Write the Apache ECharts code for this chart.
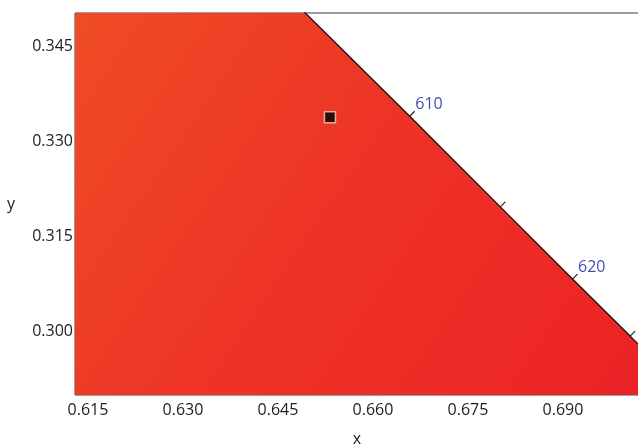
<!DOCTYPE html>
<html>
<head>
<meta charset="utf-8">
<script src="https://cdn.jsdelivr.net/npm/echarts@6/dist/echarts.min.js"></script>
<style>
  html, body { margin: 0; padding: 0; background: #fff; }
  #chart { width: 638px; height: 448px; }
</style>
</head>
<body>
<div id="chart"></div>
<script>
// CIE 1931 spectral locus, red end
const wavelengths = [600, 605, 610, 615, 620, 625, 630, 635, 640];
const locusX = [0.6270, 0.6482, 0.6658, 0.6801, 0.6915, 0.7006, 0.7079, 0.7140, 0.7190];
const locusY = [0.3725, 0.3514, 0.3340, 0.3197, 0.3083, 0.2993, 0.2920, 0.2859, 0.2809];
const labelled = [610, 620];
// axis ticks
const xTicks = [0.615, 0.630, 0.645, 0.660, 0.675, 0.690];
const yTicks = [0.300, 0.315, 0.330, 0.345];
const xRange = [0.61295, 0.7020];
const yRange = [0.2900, 0.3503];
// measured chromaticity
const samplePoint = [0.6532, 0.33385];

const chart = echarts.init(document.getElementById("chart"));

const locusData = wavelengths.map((w, i) => [locusX[i], locusY[i], w]);

// filled gamut region under the locus
function renderFill(params, api) {
  const pts = [];
  pts.push(api.coord([0.58, locusY[0]]));
  for (let i = 0; i < locusX.length; i++) {
    pts.push(api.coord([locusX[i], locusY[i]]));
  }
  pts.push(api.coord([locusX[locusX.length - 1], 0.25]));
  pts.push(api.coord([0.58, 0.25]));
  const tl = api.coord([xRange[0], yRange[1]]);
  const br = api.coord([xRange[1], yRange[0]]);
  return {
    type: "polygon",
    shape: { points: pts },
    style: {
      fill: new echarts.graphic.LinearGradient(tl[0], tl[1], br[0], br[1], [
        { offset: 0, color: "#ef4c26" },
        { offset: 0.45, color: "#ee3426" },
        { offset: 1, color: "#ec2226" },
      ], true),
    },
  };
}

// small wavelength ticks on the locus
function renderTick(params, api) {
  const i = params.dataIndex;
  if (locusX[i] > xRange[1] || locusY[i] > yRange[1]) return null;
  const p = api.coord([locusX[i], locusY[i]]);
  const a = api.coord([locusX[Math.max(i - 1, 0)], locusY[Math.max(i - 1, 0)]]);
  const b = api.coord([locusX[Math.min(i + 1, locusX.length - 1)], locusY[Math.min(i + 1, locusX.length - 1)]]);
  let tx = b[0] - a[0], ty = b[1] - a[1];
  const len = Math.sqrt(tx * tx + ty * ty);
  tx /= len; ty /= len;
  const nx = ty, ny = -tx;
  const children = [{
    type: "line",
    shape: { x1: p[0], y1: p[1], x2: p[0] + nx * 7, y2: p[1] + ny * 7 },
    style: { stroke: "#222", lineWidth: 1.2 },
  }];
  if (labelled.indexOf(wavelengths[i]) >= 0) {
    children.push({
      type: "text",
      style: {
        text: String(wavelengths[i]),
        x: p[0] + 5.5,
        y: p[1] - 12,
        align: "left",
        verticalAlign: "middle",
        fill: "#3f4fb2",
        font: '16px "Open Sans"',
      },
    });
  }
  return { type: "group", children: children };
}

const option = {
  animation: false,
  textStyle: { fontFamily: "Open Sans" },
  grid: {
    left: 75, top: 13, right: -1, bottom: 53,
    outerBoundsMode: "none",
    containLabel: false,
    show: true,
    borderColor: "#3a3a3a",
    borderWidth: 1,
  },
  xAxis: {
    type: "value",
    min: xRange[0],
    max: xRange[1],
    name: "x",
    nameLocation: "middle",
    nameGap: 36,
    nameTextStyle: { fontSize: 16, color: "#222", fontFamily: "Open Sans" },
    axisLine: { show: false },
    axisTick: { show: false },
    splitLine: { show: false },
    axisLabel: {
      customValues: xTicks,
      margin: 7,
      fontSize: 16,
      color: "#222",
      fontFamily: "Open Sans",
      formatter: (v) => v.toFixed(3),
    },
  },
  yAxis: {
    type: "value",
    min: yRange[0],
    max: yRange[1],
    name: "y",
    nameLocation: "middle",
    nameRotate: 0,
    nameGap: 60,
    nameTextStyle: { fontSize: 16, color: "#222", fontFamily: "Open Sans" },
    axisLine: { show: false },
    axisTick: { show: false },
    splitLine: { show: false },
    axisLabel: {
      customValues: yTicks,
      margin: 2,
      fontSize: 16,
      color: "#222",
      fontFamily: "Open Sans",
      formatter: (v) => v.toFixed(3),
    },
  },
  series: [
    {
      type: "custom",
      data: [[0]],
      renderItem: renderFill,
      clip: true,
      silent: true,
      z: 1,
    },
    {
      type: "line",
      data: locusData.map((d) => [d[0], d[1]]),
      showSymbol: false,
      lineStyle: { color: "#111", width: 1.3 },
      clip: true,
      silent: true,
      z: 3,
    },
    {
      type: "custom",
      data: locusData,
      renderItem: renderTick,
      clip: false,
      silent: true,
      z: 4,
    },
    {
      type: "scatter",
      data: [samplePoint],
      symbol: "rect",
      symbolSize: 11,
      itemStyle: { color: "#000", borderColor: "rgba(255,225,215,0.9)", borderWidth: 1.5 },
      z: 5,
    },
  ],
};

chart.setOption(option);
</script>
</body>
</html>
